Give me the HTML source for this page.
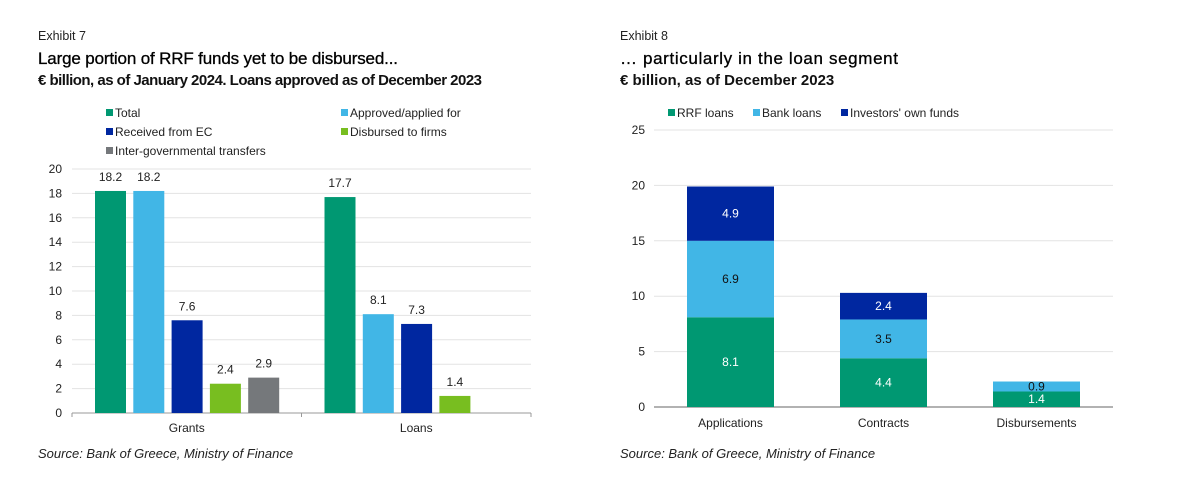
<!DOCTYPE html>
<html><head><meta charset="utf-8"><style>
body{margin:0;background:#fff;width:1201px;height:485px;overflow:hidden;font-family:"Liberation Sans",sans-serif}
svg{position:absolute;left:0;top:0}
</style></head><body>
<svg width="1201" height="485" font-family="Liberation Sans, sans-serif">
<g>
<text x="38" y="40" font-size="12.5" fill="#222">Exhibit 7</text>
<text x="38" y="64" font-size="17" fill="#000" stroke="#000" stroke-width="0.3" textLength="360">Large portion of RRF funds yet to be disbursed...</text>
<text x="38" y="85" font-size="15" font-weight="bold" fill="#111" textLength="444">€ billion, as of January 2024. Loans approved as of December 2023</text>
<text x="38" y="458" font-size="13" font-style="italic" fill="#222">Source: Bank of Greece, Ministry of Finance</text>
</g>
<g>
<text x="620" y="40" font-size="12.5" fill="#222">Exhibit 8</text>
<text x="620" y="64" font-size="17" fill="#000" stroke="#000" stroke-width="0.3" textLength="278">… particularly in the loan segment</text>
<text x="620" y="85" font-size="15" font-weight="bold" fill="#111">€ billion, as of December 2023</text>
<text x="620" y="458" font-size="13" font-style="italic" fill="#222">Source: Bank of Greece, Ministry of Finance</text>
</g>
<g id="c1"></g>
<g id="c2"></g>
</svg>
<script>
const groups1=["Grants","Loans"];
const series1=["Total","Approved/applied for","Received from EC","Disbursed to firms","Inter-governmental transfers"];
const grantsVals=[18.2,18.2,7.6,2.4,2.9];
const loansVals=[17.7,8.1,7.3,1.4,null];
const ticks1=[0,2,4,6,8,10,12,14,16,18,20];

const cats2=["Applications","Contracts","Disbursements"];
const rrfLoans=[8.1,4.4,1.4];
const bankLoans=[6.9,3.5,0.9];
const ownFunds=[4.9,2.4,null];
const ticks2=[0,5,10,15,20,25];

const NS="http://www.w3.org/2000/svg";
const colors=["#009872","#41b6e6","#0027a0","#78be20","#75787b"];
function mk(p,t,a){const e=document.createElementNS(NS,t);for(const k in a)e.setAttribute(k,a[k]);p.appendChild(e);return e;}
function txt(p,x,y,s,a){const e=mk(p,"text",Object.assign({x:x,y:y,"font-size":12,fill:"#222"},a||{}));e.textContent=s;return e;}

// chart 1
const c1=document.getElementById("c1");
const y1=v=>413-v*(244/20);
const x0=72,x1=531,gw=(x1-x0)/groups1.length;
ticks1.forEach(t=>{
  if(t>0){const g=mk(c1,"line",{x1:x0,x2:x1,y1:y1(t),y2:y1(t),stroke:"#e3e3e3"});
  
  }
  const l=txt(c1,62,y1(t)+4,String(t),{"text-anchor":"end"});
  
  
});
mk(c1,"line",{x1:x0,x2:x1,y1:413,y2:413,stroke:"#999"});
[x0,x0+gw,x1].forEach(x=>mk(c1,"line",{x1:x,x2:x,y1:413,y2:417,stroke:"#999"}));
const vals1=[grantsVals,loansVals];
groups1.forEach((g,gi)=>{
  const gx=x0+gi*gw;
  const l=txt(c1,gx+gw/2,432,g,{"text-anchor":"middle"});
  
  
  vals1[gi].forEach((v,si)=>{
    if(v==null)return;
    const bx=gx+23+si*38.3;
    const r=mk(c1,"rect",{x:bx,y:y1(v),width:31,height:413-y1(v),fill:colors[si]});
    
    
    const lb=txt(c1,bx+15.5,y1(v)-10,v.toFixed(1),{"text-anchor":"middle"});
    
    
  });
});
const leg1=[[106,113],[341,113],[106,132],[341,132],[106,151]];
series1.forEach((s,i)=>{
  const [lx,ly]=leg1[i];
  const r=mk(c1,"rect",{x:lx,y:ly-4,width:7,height:7,fill:colors[i]});
  
  
  const t=txt(c1,lx+9,ly+4,s);
  
  
});

// chart 2
const c2=document.getElementById("c2");
const y2=v=>407-v*(277/25);
const a0=654,a1=1113,cw=(a1-a0)/cats2.length;
ticks2.forEach(t=>{
  if(t>0){const g=mk(c2,"line",{x1:a0,x2:a1,y1:y2(t),y2:y2(t),stroke:"#e3e3e3"});
  
  }
  const l=txt(c2,645,y2(t)+4,String(t),{"text-anchor":"end"});
  
  
});
mk(c2,"line",{x1:a0,x2:a1,y1:407,y2:407,stroke:"#666"});
const stack=[rrfLoans,bankLoans,ownFunds];
const scol=["#009872","#41b6e6","#0027a0"];
const lcol=["#fff","#111","#fff"];
cats2.forEach((c,ci)=>{
  const cx=a0+cw*ci+cw/2;
  const l=txt(c2,cx,427,c,{"text-anchor":"middle"});
  
  
  let base=0;
  stack.forEach((arr,si)=>{
    const v=arr[ci]; if(v==null)return;
    const r=mk(c2,"rect",{x:cx-43.5,y:y2(base+v),width:87,height:y2(base)-y2(base+v),fill:scol[si]});
    
    
    const lb=txt(c2,cx,(y2(base)+y2(base+v))/2+4,v.toFixed(1),{"text-anchor":"middle",fill:lcol[si]});
    
    
    base+=v;
  });
});
[["RRF loans",668],["Bank loans",753],["Investors' own funds",841]].forEach((d,i)=>{
  const r=mk(c2,"rect",{x:d[1],y:109,width:7,height:7,fill:scol[i]});
  
  
  const t=txt(c2,d[1]+9,117,d[0]);
  
  
});
</script>
</body></html>
